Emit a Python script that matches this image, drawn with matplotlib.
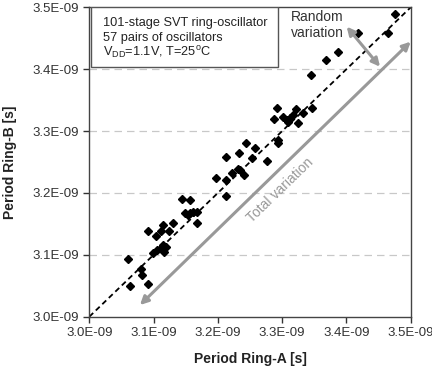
import matplotlib
matplotlib.use("Agg")
import matplotlib.pyplot as plt
import matplotlib.patches as patches

plt.rcParams['font.family'] = ['Liberation Sans', 'DejaVu Sans']
plt.rcParams['mathtext.fontset'] = 'custom'
plt.rcParams['mathtext.rm'] = 'Liberation Sans'

# periods in ns (ring A, ring B), 57 pairs
ring_a = [3.0607, 3.0633, 3.0809, 3.0814, 3.0913,
          3.0913, 3.1032, 3.1115, 3.1141, 3.1234, 3.0985, 3.1048, 3.1126,
          3.1151, 3.1162, 3.1188, 3.1307,
          3.1442, 3.1566, 3.1489, 3.1530, 3.1566, 3.1608, 3.1670, 3.1675,
          3.1966, 3.2132, 3.2132, 3.2127, 3.2215, 3.2334, 3.2308, 3.2344,
          3.2412, 3.2438, 3.2526, 3.2578, 3.2759,
          3.2915, 3.2873, 3.2930, 3.2930, 3.3019, 3.3071, 3.3122, 3.3164,
          3.3097, 3.3211, 3.3242, 3.3330, 3.3460,
          3.3449, 3.3677, 3.3864, 3.4186, 3.4653, 3.4756]
ring_b = [3.0927, 3.0501, 3.0765, 3.0673, 3.0523,
          3.1390, 3.1304, 3.1390, 3.1482, 3.1390, 3.1034, 3.1078, 3.1131,
          3.1158, 3.1040, 3.1131, 3.1509,
          3.1902, 3.1886, 3.1681, 3.1643, 3.1670, 3.1697, 3.1697, 3.1519,
          3.2247, 3.2586, 3.2209, 3.1956, 3.2317, 3.2651, 3.2387, 3.2371,
          3.2290, 3.2802, 3.2570, 3.2721, 3.2516,
          3.3367, 3.3195, 3.2856, 3.2802, 3.3233, 3.3179, 3.3206, 3.3260,
          3.3152, 3.3351, 3.3125, 3.3287, 3.3367,
          3.3901, 3.4149, 3.4283, 3.4580, 3.4580, 3.4892]

ticks = [3.0, 3.1, 3.2, 3.3, 3.4, 3.5]
tick_labels = ['3.0E-09', '3.1E-09', '3.2E-09', '3.3E-09', '3.4E-09', '3.5E-09']

info_lines = ['101-stage SVT ring-oscillator',
              '57 pairs of oscillators',
              r'V$_{\rm DD}$=1.1V, T=25$^{\rm o}$C']

fig = plt.figure(figsize=(4.32, 3.67), dpi=100)
ax = fig.add_axes([0.2067, 0.137, 0.744, 0.843])

ax.set_xlim(3.0, 3.5)
ax.set_ylim(3.0, 3.5)

# horizontal dashed grid
for t in ticks[1:-1]:
    ax.axhline(t, color='#c8c8c8', lw=0.9, ls=(0, (6, 4)), zorder=0)

# y = x reference line
ax.plot([3.0, 3.5], [3.0, 3.5], color='black', lw=1.3, ls=(0, (3, 2)), zorder=2)

ax.plot(ring_a, ring_b, ls='none', marker='D', ms=4.5, color='black', zorder=3)

gray = '#999999'
ax.annotate('', xy=(3.0788, 3.0189), xytext=(3.5, 3.4445),
            arrowprops=dict(arrowstyle='<|-|>', color=gray, lw=2.2,
                            mutation_scale=12, shrinkA=0, shrinkB=0))
ax.annotate('', xy=(3.4004, 3.4688), xytext=(3.4523, 3.404),
            arrowprops=dict(arrowstyle='<|-|>', color=gray, lw=2.2,
                            mutation_scale=12, shrinkA=0, shrinkB=0))

ax.text(3.2967, 3.2047, 'Total variation', color=gray, fontsize=10,
        rotation=44, ha='center', va='center')
ax.text(3.313, 3.495, 'Random\nvariation', color='#333333', fontsize=10,
        ha='left', va='top', linespacing=1.1)

# info box
ax.add_patch(patches.Rectangle((0.004, 0.806), 0.583, 0.194, transform=ax.transAxes,
                               fill=True, facecolor='white', edgecolor='#555555',
                               lw=1.0, zorder=4))
for line, yy in zip(info_lines, [0.950, 0.900, 0.852]):
    ax.text(0.043, yy, line, transform=ax.transAxes, fontsize=9.2, color='#222222',
            ha='left', va='center', zorder=5)

ax.set_xticks(ticks)
ax.set_xticklabels(tick_labels)
ax.set_yticks(ticks)
ax.set_yticklabels(tick_labels)
ax.tick_params(direction='out', length=4, width=1, colors='#333333',
               labelsize=9.5, labelcolor='#333333')
for s in ax.spines.values():
    s.set_color('#444444')
    s.set_linewidth(1.0)

ax.set_xlabel('Period Ring-A [s]', fontsize=10, fontweight='bold', color='#222222')
ax.set_ylabel('Period Ring-B [s]', fontsize=10, fontweight='bold', color='#222222')
ax.xaxis.set_label_coords(0.5, -0.115)
ax.yaxis.set_label_coords(-0.225, 0.5)

fig.savefig('out.png', dpi=100)
